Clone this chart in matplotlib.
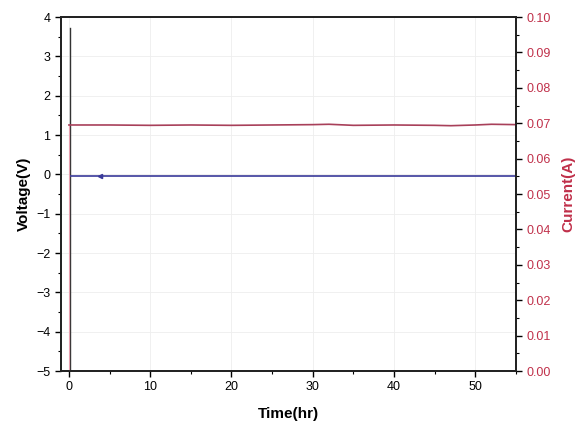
import matplotlib
matplotlib.use("Agg")
import matplotlib.pyplot as plt
from matplotlib.ticker import MultipleLocator

plt.rcParams['font.family'] = ['Liberation Sans', 'DejaVu Sans']

# Data
spike_time = [0.1, 0.1]
spike_voltage = [3.72, -5.0]
voltage_time = [0.1, 5, 10, 15, 20, 25, 30, 35, 40, 45, 50, 55]
voltage_vals = [-0.05, -0.05, -0.05, -0.05, -0.05, -0.05, -0.05, -0.05, -0.05, -0.05, -0.05, -0.05]
marker_time = [3.8]
marker_volt = [-0.05]
current_jump_time = [0.0, 0.0]
current_jump_vals = [0.0, 0.0695]
current_time = [0.0, 5, 10, 15, 20, 25, 30, 32, 35, 40, 45, 47, 50, 52, 55]
current_vals = [0.0695, 0.0695, 0.0694, 0.0695, 0.0694, 0.0695, 0.0696, 0.0697, 0.0694, 0.0695, 0.0694, 0.0693, 0.0695, 0.0697, 0.0696]

xticks = [0, 10, 20, 30, 40, 50]
yticks_left = [-5, -4, -3, -2, -1, 0, 1, 2, 3, 4]
yticks_right = [0.00, 0.01, 0.02, 0.03, 0.04, 0.05, 0.06, 0.07, 0.08, 0.09, 0.10]

fig = plt.figure(figsize=(5.79, 4.36), dpi=100)
ax = fig.add_axes([0.105, 0.149, 0.786, 0.812])
ax2 = ax.twinx()

red = '#c0304a'
line_red = '#a8405a'
ax2.plot(current_jump_time, current_jump_vals, color='#e8a0b0', lw=0.8)
ax2.plot(current_time, current_vals, color=line_red, lw=1.2)
ax.plot(spike_time, spike_voltage, color='#333333', lw=1.0)
ax.plot(voltage_time, voltage_vals, color='#3a3a9a', lw=1.2)
ax.plot(marker_time, marker_volt, marker='<', color='#3a3a9a', ms=3)

ax.set_xlim(-1, 55)
ax.set_ylim(-5, 4)
ax2.set_ylim(0, 0.10)
ax.set_xticks(xticks)
ax.set_yticks(yticks_left)
ax2.set_yticks(yticks_right)
ax2.set_yticklabels([f"{v:.2f}" for v in yticks_right])
ax.xaxis.set_minor_locator(MultipleLocator(5))
ax.yaxis.set_minor_locator(MultipleLocator(0.5))
ax2.yaxis.set_minor_locator(MultipleLocator(0.005))

ax.grid(True, color='#eeeeee', lw=0.6)
ax.set_axisbelow(True)

for a in (ax, ax2):
    for s in a.spines.values():
        s.set_linewidth(1.3)
        s.set_color('#222222')
ax.tick_params(which='major', direction='out', length=4, width=1, labelsize=9)
ax.tick_params(which='minor', direction='out', length=2, width=0.8)
ax2.tick_params(which='major', direction='out', length=4, width=1, labelsize=9, labelcolor=red)
ax2.tick_params(which='minor', direction='out', length=2, width=0.8)

ax.set_xlabel('Time(hr)', fontsize=11, fontweight='bold', labelpad=10)
ax.set_ylabel('Voltage(V)', fontsize=11, fontweight='bold', labelpad=4)
ax2.set_ylabel('Current(A)', fontsize=11, fontweight='bold', color=red, labelpad=8)

fig.savefig('out.png', dpi=100)
